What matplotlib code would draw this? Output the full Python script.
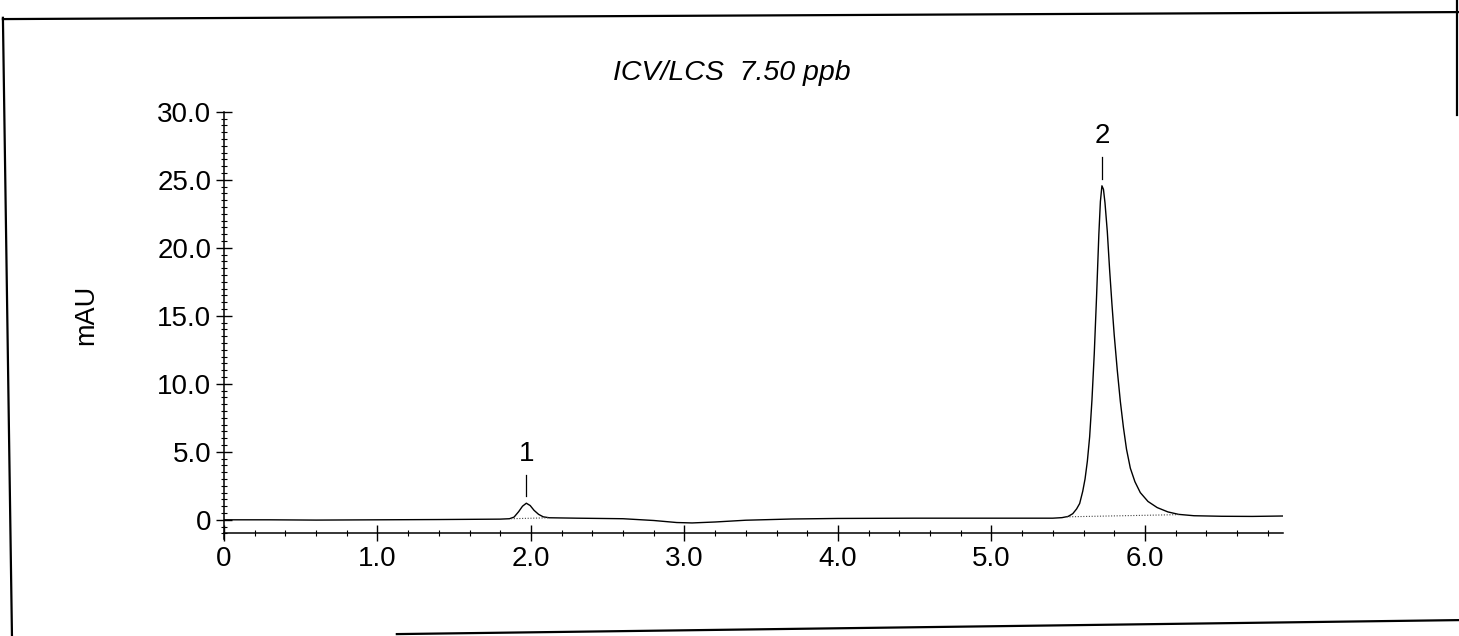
import matplotlib
matplotlib.use("Agg")
import matplotlib.pyplot as plt
from matplotlib.lines import Line2D
from matplotlib.ticker import MultipleLocator

plt.rcParams['font.family'] = ['Liberation Sans', 'DejaVu Sans']

# chromatogram trace: retention time (min) and detector response (mAU)
time_min = [0.0, 0.3, 0.6, 1.0, 1.4, 1.8, 1.86, 1.89, 1.92, 1.945, 1.97, 1.995,
            2.02, 2.05, 2.08, 2.12, 2.3, 2.6, 2.8, 2.95, 3.05, 3.2, 3.4, 3.7,
            4.0, 4.5, 5.0, 5.3, 5.4, 5.46, 5.5, 5.53, 5.555, 5.575, 5.595, 5.61,
            5.625, 5.64, 5.655, 5.67, 5.685, 5.7, 5.71, 5.72, 5.73, 5.74, 5.755,
            5.77, 5.785, 5.8, 5.82, 5.84, 5.86, 5.88, 5.905, 5.935, 5.97, 6.02,
            6.08, 6.15, 6.22, 6.32, 6.5, 6.7, 6.9]
signal_mau = [0.0, 0.0, -0.02, 0.0, 0.02, 0.05, 0.08, 0.2, 0.6, 1.0, 1.22, 1.05,
              0.7, 0.4, 0.22, 0.15, 0.12, 0.08, -0.05, -0.2, -0.23, -0.16, -0.03, 0.06,
              0.1, 0.12, 0.12, 0.12, 0.12, 0.16, 0.25, 0.45, 0.8, 1.2, 2.1, 3.0,
              4.3, 6.1, 8.8, 12.2, 16.4, 21.0, 23.4, 24.56, 24.3, 23.3, 21.2,
              18.4, 15.9, 13.6, 11.0, 8.7, 6.8, 5.2, 3.8, 2.8, 2.0, 1.35,
              0.9, 0.58, 0.4, 0.3, 0.26, 0.25, 0.28]

# identified peaks
peak_names = ["1", "2"]
peak_times = [1.97, 5.72]
peak_heights = [1.22, 24.56]

# integration baselines under each peak (start/end time and level)
base_t0 = [1.87, 5.49]
base_t1 = [2.12, 6.22]
base_y0 = [0.08, 0.22]
base_y1 = [0.15, 0.38]

x_ticks = [0, 1, 2, 3, 4, 5, 6]
x_labels = ["0", "1.0", "2.0", "3.0", "4.0", "5.0", "6.0"]
y_ticks = [0, 5, 10, 15, 20, 25, 30]
y_labels = ["0", "5.0", "10.0", "15.0", "20.0", "25.0", "30.0"]

fig = plt.figure(figsize=(14.59, 6.36), dpi=100)
ax = fig.add_axes([0.1535, 0.1613, 0.7259, 0.6629])

ax.plot(time_min, signal_mau, color="black", lw=1.0)
for t0, t1, y0, y1 in zip(base_t0, base_t1, base_y0, base_y1):
    ax.plot([t0, t1], [y0, y1], color="#444444", lw=0.8, ls=(0, (1, 1.5)))

# peak numbers with a small marker line above the apex
for name, t, h in zip(peak_names, peak_times, peak_heights):
    ax.plot([t, t], [h + 0.5, h + 2.1], color="black", lw=0.9)
    ax.text(t, h + 2.7, name, ha="center", va="bottom", fontsize=20)

ax.set_xlim(0, 6.9)
ax.set_ylim(-1.0, 30)
ax.set_xticks(x_ticks)
ax.set_xticklabels(x_labels)
ax.set_yticks(y_ticks)
ax.set_yticklabels(y_labels)
ax.xaxis.set_minor_locator(MultipleLocator(0.2))
ax.yaxis.set_minor_locator(MultipleLocator(0.5))
ax.tick_params(which="major", direction="inout", length=12, width=1.0,
               labelsize=20, pad=3)
ax.tick_params(which="minor", direction="inout", length=5, width=0.8)

for side in ["top", "right"]:
    ax.spines[side].set_visible(False)
ax.spines["left"].set_linewidth(1.1)
ax.spines["bottom"].set_linewidth(1.1)
ax.spines["left"].set_bounds(-1.4, 30)

fig.text(0.4202, 0.874, "ICV/LCS  7.50 ppb", fontsize=20.5, style="italic",
         ha="left", va="baseline")
fig.text(0.0590, 0.505, "mAU", fontsize=19.5, rotation=90, ha="center", va="center")

# page frame around the plot
frame = [((0.002, 0.970), (1.0, 0.981)),
         ((0.002, 0.972), (0.0082, 0.0)),
         ((0.272, 0.003), (1.0, 0.025)),
         ((0.9986, 1.0), (0.9986, 0.819))]
for (xa, ya), (xb, yb) in frame:
    fig.add_artist(Line2D([xa, xb], [ya, yb], transform=fig.transFigure,
                          color="black", lw=1.6))

fig.savefig("out.png", dpi=100)
